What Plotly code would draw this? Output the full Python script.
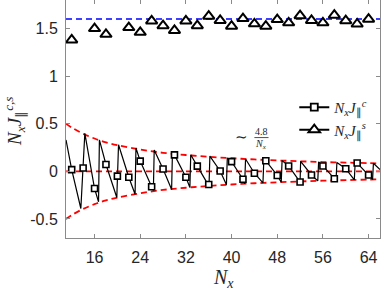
import plotly.graph_objects as go

# ---- data ----
# envelope (red dashed), upper branch; lower branch is its mirror
env_N = [11, 12, 14, 16, 18, 20, 24, 28, 32, 36, 40, 44, 48, 52, 56, 60, 64, 66]
env_v = [0.50, 0.46, 0.395, 0.345, 0.305, 0.275, 0.23, 0.195, 0.172, 0.153,
         0.138, 0.125, 0.115, 0.106, 0.098, 0.092, 0.086, 0.083]

# saturated value of N_x J^s (blue dashed)
js_limit = 1.6
lim_N = [11, 66]

# N_x J^c : sawtooth curve vertices
saw_start = (11, 0.33)
saw_end = (66, 0.02)
saw_bottom_N = [13.6, 16.7, 19.9, 23.1, 26.3, 29.5, 32.7, 36.05, 39.1, 42.3, 45.5,
                48.7, 51.95, 55.1, 58.3, 61.5, 64.7]
saw_bottom_v = [-0.39, -0.32, -0.275, -0.24, -0.20, -0.19, -0.17, -0.155, -0.14,
                -0.13, -0.12, -0.115, -0.108, -0.10, -0.095, -0.09, -0.085]
saw_top_N = [14.3, 16.85, 20.2, 23.25, 26.45, 29.65, 32.85, 36.2, 39.25, 42.45,
             45.65, 48.85, 52.1, 55.25, 58.45, 61.65, 64.85]
saw_top_v = [0.40, 0.33, 0.28, 0.245, 0.225, 0.21, 0.175, 0.16, 0.14, 0.13, 0.12,
             0.113, 0.106, 0.10, 0.094, 0.09, 0.085]

# N_x J^c markers (even N)
jc_N = list(range(12, 65, 2))
jc_v = [0.018, 0.036, -0.18, 0.072, -0.05, -0.062, 0.108, -0.162, 0.025, 0.173,
        -0.062, 0.055, -0.138, 0.004, 0.102, -0.083, -0.02, 0.112, -0.043, 0.057,
        -0.112, -0.038, 0.057, -0.078, 0.028, 0.088, -0.038]

# N_x J^s markers
js_N = [12, 16, 18, 22, 24, 26, 28, 30, 32, 34, 36, 38, 40, 42, 44, 46, 48, 50,
        52, 54, 56, 58, 60, 62, 64]
js_v = [1.38, 1.50, 1.44, 1.51, 1.46, 1.58, 1.53, 1.48, 1.58, 1.53, 1.63, 1.585,
        1.525, 1.605, 1.55, 1.525, 1.595, 1.56, 1.635, 1.585, 1.56, 1.64, 1.583,
        1.548, 1.598]

x_ticks = [16, 24, 32, 40, 48, 56, 64]
y_ticks = [-0.5, 0, 0.5, 1, 1.5]
y_ticktext = ["-0.5", "0", "0.5", "1", "1.5"]

# merge sawtooth vertices with the marker points so markers sit on the curve
pts = [saw_start, saw_end] + list(zip(saw_bottom_N, saw_bottom_v)) \
    + list(zip(saw_top_N, saw_top_v)) + list(zip(jc_N, jc_v))
pts.sort(key=lambda p: p[0])
line_N = [p[0] for p in pts]
line_v = [p[1] for p in pts]

SERIF = "Liberation Serif"
SANS = "Liberation Sans"
AX = "#8a8a8a"

fig = go.Figure()
red = dict(color="#ff0000", width=1.8, dash="6px,4px", shape="spline")
fig.add_trace(go.Scatter(x=env_N, y=env_v, mode="lines", line=red, showlegend=False, hoverinfo="skip"))
fig.add_trace(go.Scatter(x=env_N, y=[-v for v in env_v], mode="lines", line=red, showlegend=False, hoverinfo="skip"))
fig.add_trace(go.Scatter(x=env_N, y=[0 * v for v in env_v], mode="lines",
                         line=dict(color="#ff0000", width=1.8, dash="6px,4px"), showlegend=False, hoverinfo="skip"))
fig.add_trace(go.Scatter(x=lim_N, y=[js_limit, js_limit], mode="lines",
                         line=dict(color="#0000ff", width=1.5, dash="6px,4px"), showlegend=False))

fig.add_trace(go.Scatter(x=line_N, y=line_v, mode="lines", line=dict(color="black", width=1.2),
                         showlegend=False))
fig.add_trace(go.Scatter(x=jc_N, y=jc_v, mode="markers",
                         marker=dict(symbol="square", size=6, color="white",
                                     line=dict(color="black", width=1.6)),
                         showlegend=False))
fig.add_trace(go.Scatter(x=js_N, y=js_v, mode="markers",
                         marker=dict(symbol="triangle-up", size=10, color="white",
                                     line=dict(color="black", width=2)),
                         showlegend=False))

# legend entries
fig.add_trace(go.Scatter(x=[None], y=[None], mode="lines+markers",
                         line=dict(color="black", width=2),
                         marker=dict(symbol="square", size=7, color="white", line=dict(color="black", width=1.8)),
                         name="<i>N<sub>x</sub>J</i><sub>∥</sub><sup><i>c</i></sup>"))
fig.add_trace(go.Scatter(x=[None], y=[None], mode="lines+markers",
                         line=dict(color="black", width=2),
                         marker=dict(symbol="triangle-up", size=10, color="white", line=dict(color="black", width=2)),
                         name="<i>N<sub>x</sub>J</i><sub>∥</sub><sup><i>s</i></sup>"))

axis_common = dict(showline=True, linecolor=AX, linewidth=1, mirror="ticks",
                   ticks="inside", ticklen=4, tickcolor=AX, tickwidth=1,
                   showgrid=False, zeroline=False,
                   tickfont=dict(family=SANS, size=16, color="#262626"))
fig.update_xaxes(range=[11, 66], tickvals=x_ticks, ticktext=[str(t) for t in x_ticks],
                 ticklabelstandoff=5, **axis_common)
fig.update_yaxes(range=[-0.7, 1.8], tickvals=y_ticks, ticktext=y_ticktext,
                 ticklabelstandoff=4, **axis_common)

fig.update_layout(
    width=382, height=290,
    margin=dict(l=66, r=2, t=0, b=52),
    paper_bgcolor="white", plot_bgcolor="white",
    legend=dict(x=0.727, y=0.618, xanchor="left", yanchor="top",
                bgcolor="rgba(0,0,0,0)", borderwidth=0,
                font=dict(family=SERIF, size=15, color="#262626"),
                itemwidth=30, tracegroupgap=0),
    annotations=[
        dict(text="<i>N<sub>x</sub>J</i><sub>∥</sub><sup><i>c,s</i></sup>", xref="paper", yref="paper",
             x=-0.164, y=0.49, textangle=-90, showarrow=False,
             font=dict(family=SERIF, size=19, color="#262626"), xanchor="center", yanchor="middle"),
        dict(text="<i>N<sub>x</sub></i>", xref="paper", yref="paper", x=0.5, y=-0.172,
             showarrow=False, font=dict(family=SERIF, size=20, color="#262626"),
             xanchor="center", yanchor="middle"),
        dict(text="∼", xref="paper", yref="paper", x=0.56, y=0.424, showarrow=False,
             font=dict(family=SERIF, size=15, color="#262626"), xanchor="center", yanchor="middle"),
        dict(text="4.8", xref="paper", yref="paper", x=0.622, y=0.447, showarrow=False,
             font=dict(family=SERIF, size=10, color="#262626"), xanchor="center", yanchor="middle"),
        dict(text="<i>N<sub>x</sub></i>", xref="paper", yref="paper", x=0.622, y=0.392, showarrow=False,
             font=dict(family=SERIF, size=10, color="#262626"), xanchor="center", yanchor="middle"),
    ],
    shapes=[dict(type="line", xref="paper", yref="paper", x0=0.600, x1=0.645, y0=0.422, y1=0.422,
                 line=dict(color="#262626", width=0.8))],
)

fig.write_html("out.html", config={"displayModeBar": False})

# remove the browser's default page margin so the figure sits at (0, 0)
with open("out.html", encoding="utf-8") as f:
    html = f.read()
html = html.replace("<head>", "<head><style>html,body{margin:0;padding:0;overflow:hidden}</style>", 1)
with open("out.html", "w", encoding="utf-8") as f:
    f.write(html)
